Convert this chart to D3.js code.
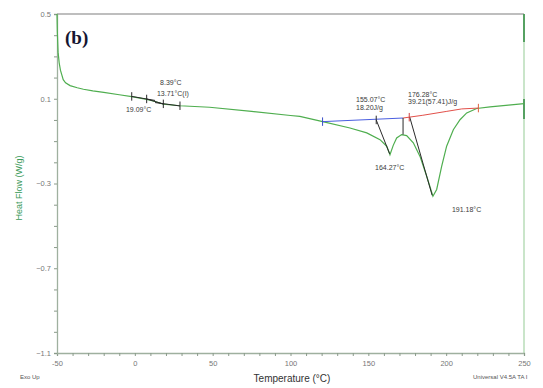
<!DOCTYPE html>
<html><head><meta charset="utf-8">
<script src="https://cdn.jsdelivr.net/npm/d3@7"></script>
<style>body{margin:0;background:#fff}svg{display:block}text{font-family:"Liberation Sans",Arial,sans-serif}</style>
</head><body>
<svg id="c" width="543" height="388"></svg>
<script>
// ---- data ----
const curveT = [-50,-49.8,-49.3,-48.6,-47.8,-47,-46,-44.5,-41.6,-37,-33,-27,-20,-10,-2,7.6,13,18.3,29,48,75,100,106,120,138.2,149,157.5,161.8,163.9,166,168.2,171.4,174.6,178.9,183.2,187.5,191.5,193.9,197.1,200.3,204.6,208.9,213.2,219.6,228.2,240,250];
const curveHF = [0.5,0.42,0.32,0.27,0.235,0.215,0.19,0.175,0.162,0.152,0.145,0.137,0.13,0.119,0.11,0.097,0.087,0.075,0.067,0.06,0.04,0.021,0.017,-0.007,-0.038,-0.061,-0.093,-0.124,-0.164,-0.12,-0.085,-0.069,-0.074,-0.108,-0.172,-0.266,-0.36,-0.328,-0.219,-0.124,-0.046,0.001,0.033,0.054,0.062,0.07,0.077];
const blueT = [120.6,172.3];
const blueHF = [-0.008,0.009];
const redT = [172.3,185,200,210,220.7];
const redHF = [0.009,0.022,0.040,0.052,0.056];
const xTicks = [-50,0,50,100,150,200,250];
const yTicks = [0.5,0.1,-0.3,-0.7,-1.1];
const labels = [
  {t:"8.39°C", x:16.2, y:0.165},
  {t:"13.71°C(I)", x:14.2, y:0.115},
  {t:"19.09°C", x:-5.7, y:0.037},
  {t:"155.07°C", x:142.1, y:0.084},
  {t:"18.20J/g", x:142.1, y:0.047},
  {t:"176.28°C", x:175.5, y:0.108},
  {t:"39.21(57.41)J/g", x:175.5, y:0.073},
  {t:"164.27°C", x:154.3, y:-0.236},
  {t:"191.18°C", x:203.7, y:-0.435}
];

// ---- layout ----
const L=57,R=524,T=14,B=353;
const x=d3.scaleLinear().domain([-50,250]).range([L,R]);
const y=d3.scaleLinear().domain([-1.1,0.5]).range([B,T]);
const svg=d3.select("#c");
const line=d3.line().x(d=>x(d[0])).y(d=>y(d[1]));

// borders
svg.append("line").attr("x1",L).attr("x2",R).attr("y1",T).attr("y2",T).attr("stroke","#a9a9a9").attr("stroke-width",1.5);
svg.append("line").attr("x1",R).attr("x2",R).attr("y1",T).attr("y2",B).attr("stroke","#b8dcb8").attr("stroke-width",1.5);
svg.append("line").attr("x1",R).attr("x2",R).attr("y1",T).attr("y2",T+28).attr("stroke","#2f8a3f").attr("stroke-width",1.5);
svg.append("line").attr("x1",R).attr("x2",R).attr("y1",y(0.07)-6).attr("y2",y(0.07)+14).attr("stroke","#2f8a3f").attr("stroke-width",1.5);

// axes
const xAx=svg.append("g").attr("transform",`translate(0,${B})`)
  .call(d3.axisBottom(x).tickValues(d3.range(-50,251,10)).tickSize(3).tickFormat(d=>xTicks.includes(d)?d:""));
const yAx=svg.append("g").attr("transform",`translate(${L},0)`)
  .call(d3.axisLeft(y).tickValues(d3.range(-11,6,1).map(v=>v/10)).tickSize(3).tickFormat(d=>yTicks.some(v=>Math.abs(v-d)<1e-6)?d3.format(".1f")(d):""));
[xAx,yAx].forEach(g=>{
  g.select(".domain").attr("stroke","#9fb09f").attr("stroke-width",1.3);
  g.selectAll(".tick line").attr("stroke","#8a9a8a");
  g.selectAll("text").attr("fill","#777").attr("font-size",7.5).style("font-family","Liberation Sans, Arial");
});
xAx.selectAll("text").attr("dy","0.9em");

// curve
const pts=curveT.map((t,i)=>[t,curveHF[i]]);
svg.append("path").datum(pts).attr("d",line).attr("fill","none").attr("stroke","#4fae4f").attr("stroke-width",1.2);

// baselines
svg.append("path").datum(blueT.map((t,i)=>[t,blueHF[i]])).attr("d",line).attr("fill","none").attr("stroke","#4a5ee0").attr("stroke-width",1);
svg.append("path").datum(redT.map((t,i)=>[t,redHF[i]])).attr("d",line).attr("fill","none").attr("stroke","#e2504a").attr("stroke-width",1);

// construction lines
const seg=(a,b,c="#2a2a2a",w=1)=>svg.append("line").attr("x1",x(a[0])).attr("y1",y(a[1])).attr("x2",x(b[0])).attr("y2",y(b[1])).attr("stroke",c).attr("stroke-width",w);
// Tg
seg([-2,0.111],[13,0.092]);
seg([7.6,0.099],[18.8,0.074]);
seg([13,0.082],[29,0.066]);
[[-2,0.111],[7.6,0.099],[18.3,0.076],[29,0.067]].forEach(p=>seg([p[0],p[1]+0.02],[p[0],p[1]-0.02]));
// melting
seg([155.07,0.0],[163.7,-0.16]);
seg([172.3,0.009],[172.3,-0.069]);
seg([176.6,0.013],[191.0,-0.356]);
seg([120.6,0.012],[120.6,-0.028],"#3a4ec8");
seg([155.07,0.02],[155.07,-0.02]);
seg([176.28,0.033],[176.28,-0.007],"#d04040");
seg([220.7,0.076],[220.7,0.036],"#e06040");

// labels
labels.forEach(l=>svg.append("text").attr("x",x(l.x)).attr("y",y(l.y)).text(l.t).attr("font-size",7).attr("fill","#3a3a3a"));

svg.append("text").attr("x",65).attr("y",44).text("(b)").attr("font-size",19).attr("font-weight","bold").style("font-family","Liberation Serif, Times New Roman, serif").attr("fill","#151530");
svg.append("text").attr("transform","translate(22,188) rotate(-90)").attr("text-anchor","middle").text("Heat Flow (W/g)").attr("font-size",9).attr("fill","#3a9a5a");
svg.append("text").attr("x",292).attr("y",382).attr("text-anchor","middle").text("Temperature (°C)").attr("font-size",10).attr("fill","#333");
svg.append("text").attr("x",20).attr("y",379).text("Exo Up").attr("font-size",6).attr("fill","#555");
svg.append("text").attr("x",473).attr("y",379).text("Universal V4.5A TA I").attr("font-size",6).attr("fill","#555");
</script>
</body></html>
